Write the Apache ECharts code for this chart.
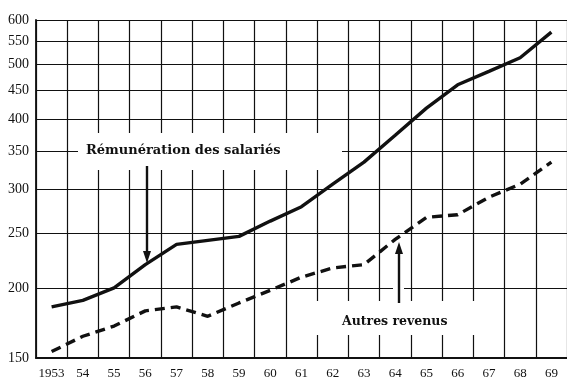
<!DOCTYPE html>
<html>
<head>
<meta charset="utf-8">
<script src="https://cdn.jsdelivr.net/npm/echarts@6/dist/echarts.min.js"></script>
<style>
  html, body { margin: 0; padding: 0; background: #fff; }
  #chart { width: 567px; height: 381px; }
</style>
</head>
<body>
<div id="chart"></div>
<script>
// Années (axe des abscisses)
const years = ['1953', '54', '55', '56', '57', '58', '59', '60', '61', '62', '63', '64', '65', '66', '67', '68', '69'];
// Rémunération des salariés
const remuneration = [185, 190, 200, 220, 239, 243, 247, 263, 279, 306, 335, 374, 418, 460, 486, 514, 571];
// Autres revenus
const autresRevenus = [154, 164, 171, 182, 185, 178, 188, 198, 209, 217, 220, 244, 267, 270, 290, 306, 335];
// Graduations de l'échelle logarithmique
const yTicks = [150, 200, 250, 300, 350, 400, 450, 500, 550, 600];

const ink = '#111';
const serif = '"Liberation Serif", "DejaVu Serif", serif';

const chart = echarts.init(document.getElementById('chart'), null, { renderer: 'canvas' });

chart.setOption({
  animation: false,
  backgroundColor: '#fff',
  grid: { left: 36, right: -1, top: 20, bottom: 23, containLabel: false },
  xAxis: {
    type: 'category',
    data: years,
    boundaryGap: true,
    axisLine: { show: true, lineStyle: { color: ink, width: 1.8 } },
    axisTick: { show: false },
    axisLabel: { interval: 0, color: ink, fontFamily: serif, fontSize: 13, margin: 9 },
    splitLine: { show: true, interval: 0, lineStyle: { color: ink, width: 1.2 } }
  },
  yAxis: {
    type: 'log',
    logBase: 10,
    min: 150,
    max: 600,
    axisLine: { show: true, lineStyle: { color: ink, width: 1.8 } },
    axisTick: { show: false, customValues: yTicks },
    axisLabel: { customValues: yTicks, color: ink, fontFamily: serif, fontSize: 14, margin: 7 },
    splitLine: { show: true, lineStyle: { color: ink, width: 1.2 } }
  },
  series: [
    {
      name: 'Rémunération des salariés',
      type: 'line',
      data: remuneration,
      symbol: 'none',
      z: 5,
      lineStyle: { color: ink, width: 3.4, type: 'solid' }
    },
    {
      name: 'Autres revenus',
      type: 'line',
      data: autresRevenus,
      symbol: 'none',
      z: 5,
      lineStyle: { color: ink, width: 3.4, type: [10, 6] }
    }
  ],
  graphic: [
    // cartouche « Rémunération des salariés »
    { type: 'rect', z: 1, shape: { x: 78, y: 133, width: 264, height: 37 }, style: { fill: '#fff' } },
    { type: 'text', z: 3, x: 86, y: 151,
      style: { text: 'Rémunération des salariés', fill: ink, font: 'bold 13px "DejaVu Serif", serif', textVerticalAlign: 'middle' } },
    { type: 'line', z: 3, shape: { x1: 147, y1: 166, x2: 147, y2: 254 }, style: { stroke: ink, lineWidth: 2.4 } },
    { type: 'polygon', z: 3, shape: { points: [[143, 251], [151, 251], [147, 263]] }, style: { fill: ink } },
    // cartouche « Autres revenus »
    { type: 'rect', z: 1, shape: { x: 300, y: 301, width: 195, height: 34 }, style: { fill: '#fff' } },
    { type: 'rect', z: 1, shape: { x: 393, y: 288, width: 11, height: 10 }, style: { fill: '#fff' } },
    { type: 'text', z: 3, x: 342, y: 322,
      style: { text: 'Autres revenus', fill: ink, font: 'bold 12.5px "DejaVu Serif", serif', textVerticalAlign: 'middle' } },
    { type: 'line', z: 3, shape: { x1: 399, y1: 303, x2: 399, y2: 251 }, style: { stroke: ink, lineWidth: 2.4 } },
    { type: 'polygon', z: 3, shape: { points: [[395, 254], [403, 254], [399, 242]] }, style: { fill: ink } }
  ]
});
</script>
</body>
</html>
